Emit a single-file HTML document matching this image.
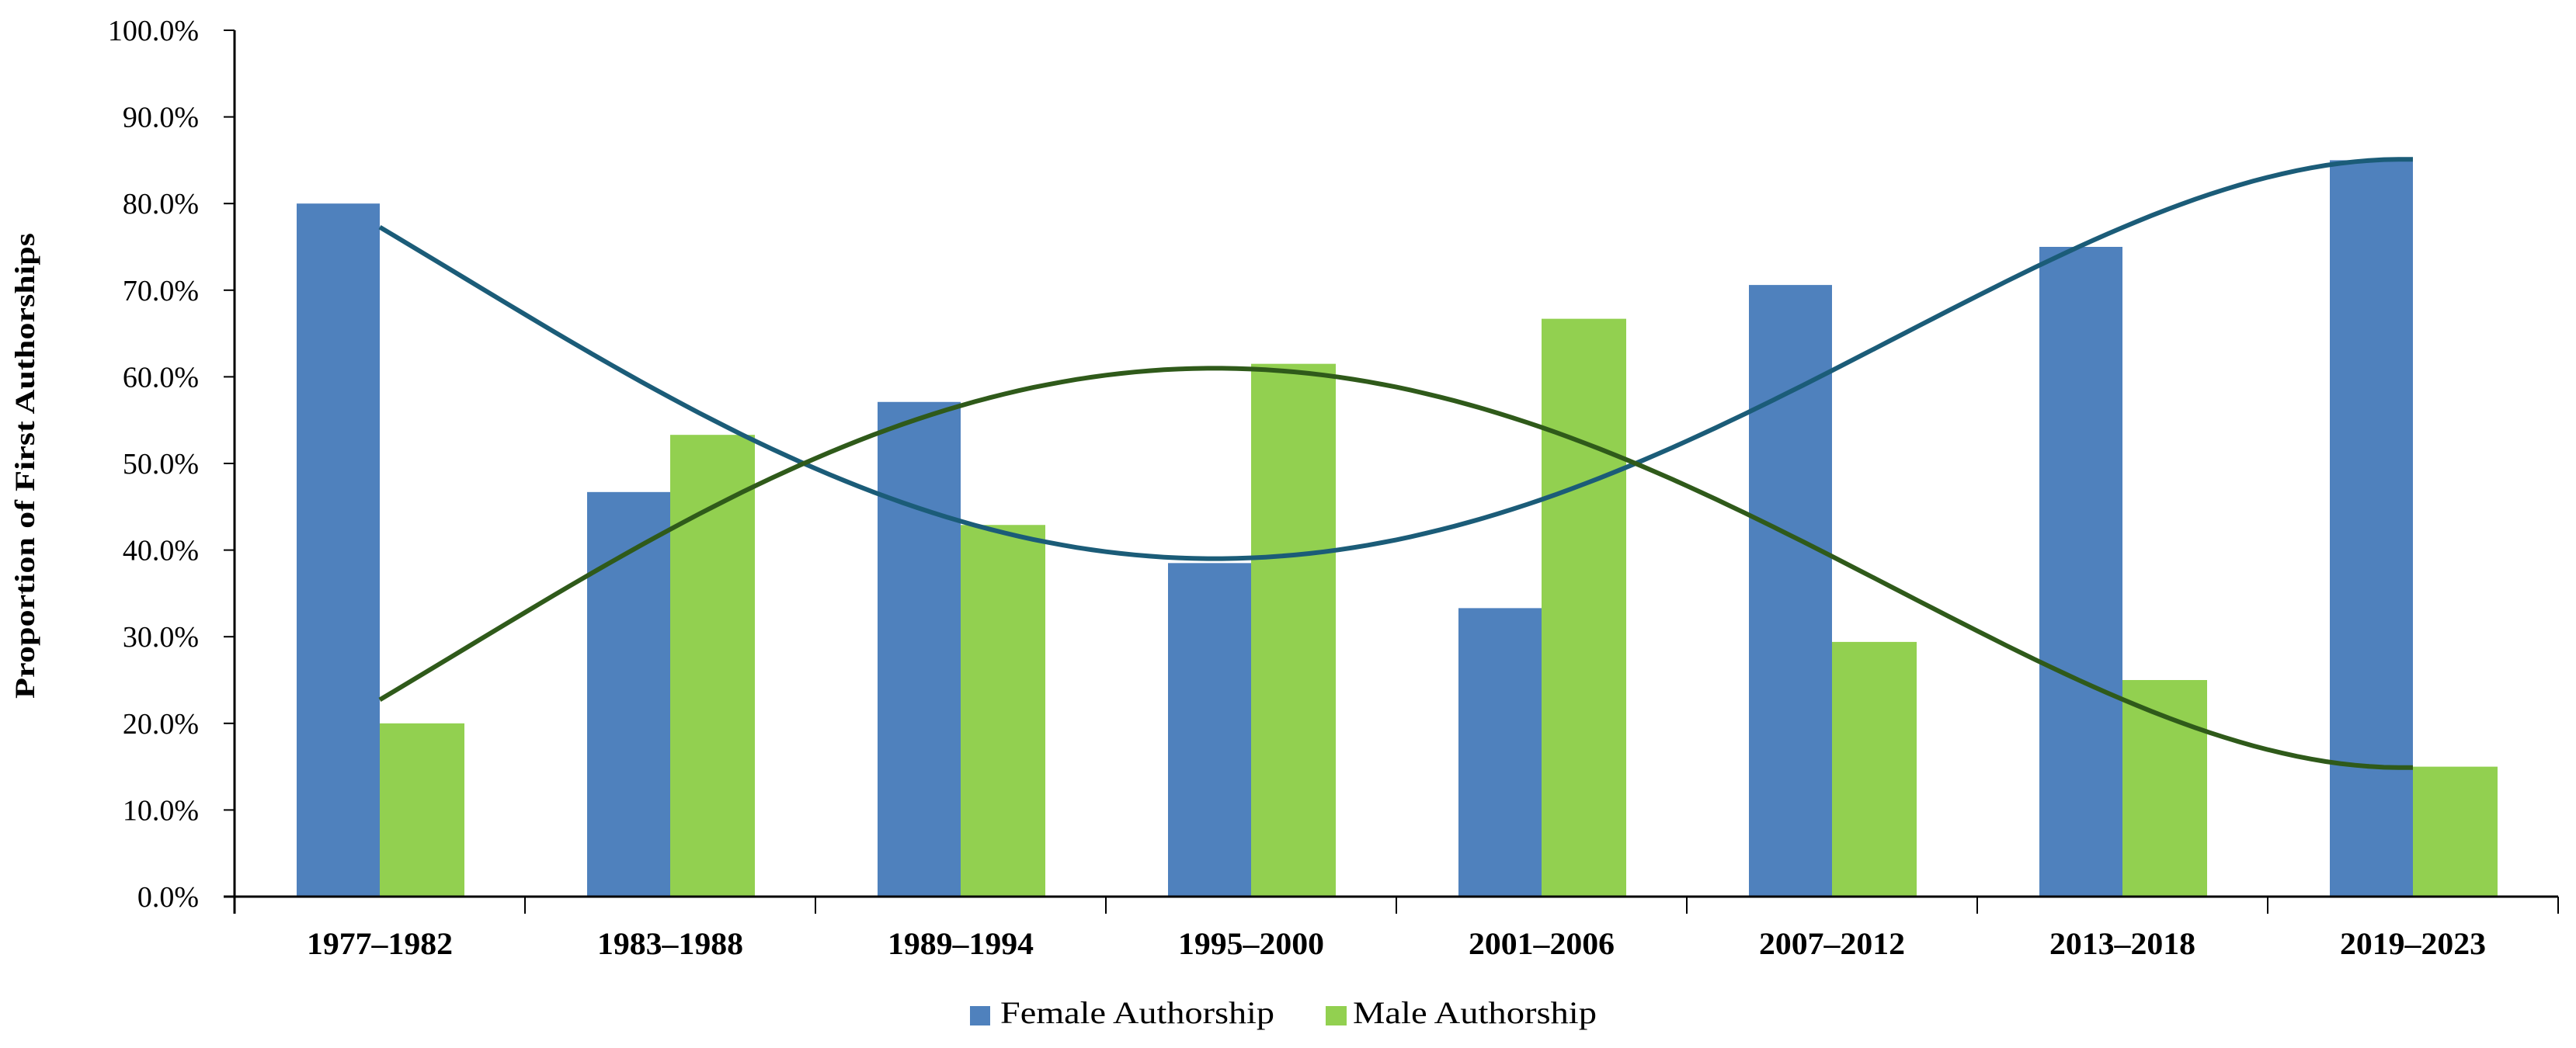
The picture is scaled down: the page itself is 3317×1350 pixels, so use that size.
<!DOCTYPE html>
<html><head><meta charset="utf-8"><style>
html,body{margin:0;padding:0;background:#fff;}
svg{display:block;font-family:"Liberation Serif",serif;}
</style></head><body>
<svg id="chart" width="3317" height="1350" viewBox="0 0 3317 1350" xmlns="http://www.w3.org/2000/svg">
<g id="plot"></g>
<text x="0" y="0" transform="translate(44,600) rotate(-90)" text-anchor="middle" font-size="36" font-weight="bold" textLength="600" lengthAdjust="spacingAndGlyphs">Proportion of First Authorships</text>
<g>
<rect x="1249" y="1296" width="26" height="25" fill="#4f81bd"/>
<text x="1288" y="1318" font-size="40" textLength="353" lengthAdjust="spacingAndGlyphs">Female Authorship</text>
<rect x="1707" y="1296" width="27" height="25" fill="#92d050"/>
<text x="1742" y="1318" font-size="40" textLength="314" lengthAdjust="spacingAndGlyphs">Male Authorship</text>
</g>
</svg>
<script>
const categories = ["1977–1982","1983–1988","1989–1994","1995–2000","2001–2006","2007–2012","2013–2018","2019–2023"];
const femaleValues = [80.0, 46.7, 57.1, 38.5, 33.3, 70.6, 75.0, 85.0];
const maleValues = [20.0, 53.3, 42.9, 61.5, 66.7, 29.4, 25.0, 15.0];
const yTicks = [0,10,20,30,40,50,60,70,80,90,100];
const trendDegree = 4;

const NS = "http://www.w3.org/2000/svg";
const plot = document.getElementById('plot');
const X0 = 302, Y0 = 1155, YTOP = 39, CW = 374;
const yScale = v => Y0 - (v/100)*(Y0-YTOP);
const xCenter = i => X0 + CW*i + CW/2;
function mk(tag, attrs){ const e=document.createElementNS(NS,tag); for(const k in attrs) e.setAttribute(k,attrs[k]); plot.appendChild(e); return e; }

categories.forEach((c,i)=>{
  const cx = xCenter(i), bw = 107;
  const f = mk('rect',{x:cx-bw, y:yScale(femaleValues[i]), width:bw, height:Y0-yScale(femaleValues[i]), fill:'#4f81bd'});
  
  
  const m = mk('rect',{x:cx, y:yScale(maleValues[i]), width:bw+2, height:Y0-yScale(maleValues[i]), fill:'#92d050'});
  
  
  const t = mk('text',{x:cx, y:1229, 'text-anchor':'middle', 'font-size':'40', 'font-weight':'bold', textLength:'188', lengthAdjust:'spacingAndGlyphs'});
  t.textContent = c;
  
  
});

function polyfit(ys, deg){
  const n=ys.length, xs=ys.map((_,i)=>(i+1-4.5)/3.5), m=deg+1;
  const A=[]; for(let r=0;r<m;r++){A.push([]);for(let c=0;c<=m;c++)A[r].push(0);}
  for(let k=0;k<n;k++){for(let r=0;r<m;r++){for(let c=0;c<m;c++)A[r][c]+=Math.pow(xs[k],r+c);A[r][m]+=ys[k]*Math.pow(xs[k],r);}}
  for(let i=0;i<m;i++){let p=i;for(let r=i+1;r<m;r++)if(Math.abs(A[r][i])>Math.abs(A[p][i]))p=r;[A[i],A[p]]=[A[p],A[i]];
    for(let r=0;r<m;r++){if(r===i)continue;const f=A[r][i]/A[i][i];for(let c=i;c<=m;c++)A[r][c]-=f*A[i][c];}}
  return A.map((row,i)=>row[m]/row[i]);
}
function trend(vals, color, name){
  const co = polyfit(vals,trendDegree); let d='';
  for(let s=0;s<=140;s++){const x=1+7*s/140; const u=(x-4.5)/3.5; let y=0; co.forEach((c,p)=>y+=c*Math.pow(u,p));
    d += (s?'L':'M') + xCenter(x-1).toFixed(1)+','+yScale(y).toFixed(1);}
  const p = mk('path',{d:d, fill:'none', stroke:color, 'stroke-width':'6'});
  
  
}
trend(femaleValues,'#1b5c78','female-trendline');
trend(maleValues,'#2f5a1a','male-trendline');

const ya = mk('line',{x1:X0,y1:YTOP,x2:X0,y2:Y0+22,stroke:'#000','stroke-width':'3'});


const xa = mk('line',{x1:X0-14,y1:Y0,x2:X0+8*CW,y2:Y0,stroke:'#000','stroke-width':'3'});


for(let i=1;i<=8;i++){ const tk=mk('line',{x1:X0+CW*i,y1:Y0,x2:X0+CW*i,y2:Y0+22,stroke:'#000','stroke-width':'2'});
  
   }
yTicks.forEach(v=>{
  const tk=mk('line',{x1:X0-14,y1:yScale(v),x2:X0,y2:yScale(v),stroke:'#000','stroke-width':'2'});
  
  
  const t=mk('text',{x:256,y:yScale(v)+13,'text-anchor':'end','font-size':'38'});
  t.textContent = v.toFixed(1)+'%';
  
  
});
</script>
</body></html>
